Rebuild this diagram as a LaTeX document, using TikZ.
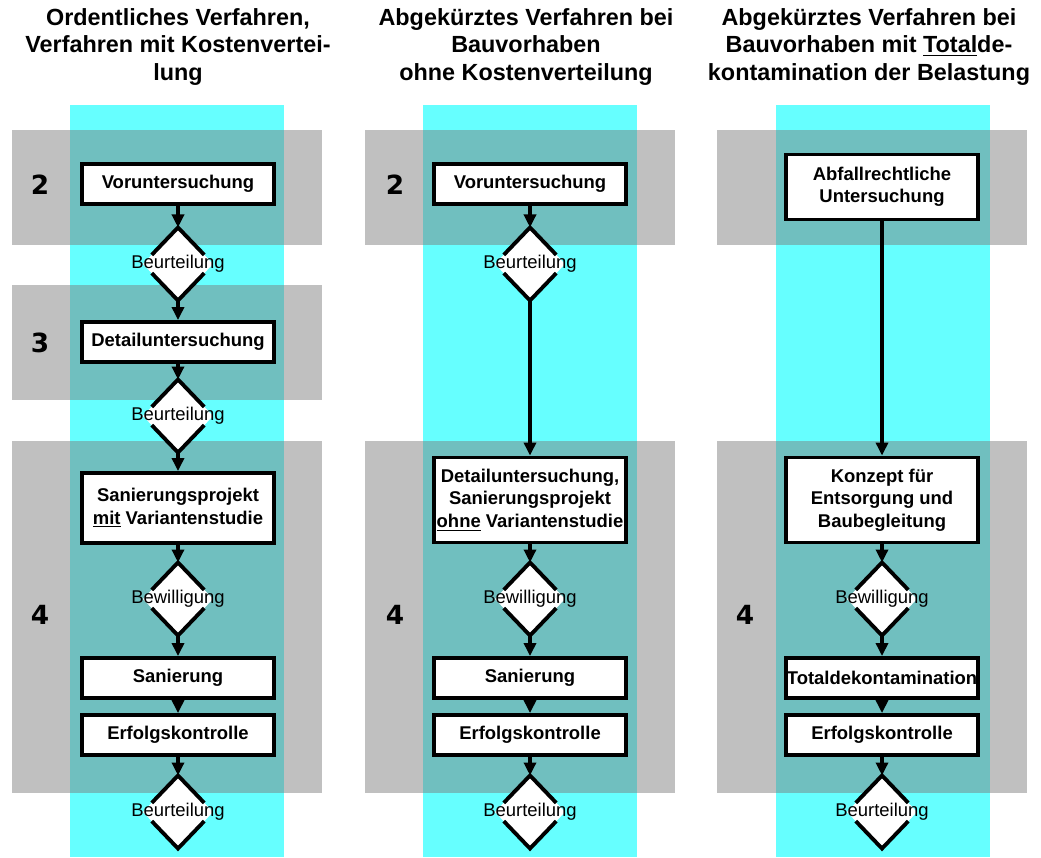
\documentclass[tikz,border=0pt]{standalone}
\usepackage{fontspec}
\setmainfont{Liberation Sans}
\newfontfamily\phasefont{DejaVu Sans}
\usetikzlibrary{arrows.meta,shapes.geometric,calc}
\definecolor{stripcyan}{RGB}{102,255,255}
\definecolor{bandgray}{RGB}{192,192,192}
\definecolor{bandteal}{RGB}{112,191,191}
\tikzset{
  stepbox/.style={draw, line width=2.2pt, fill=white, minimum width=38.4mm,
                  minimum height=8mm, inner sep=0pt, align=center,
                  font=\fontsize{10.5}{12.8}\selectfont\bfseries},
  decision/.style={diamond, fill=white, minimum width=14mm, outer sep=0pt,
                   minimum height=14.6mm, inner sep=0pt,
                   font=\fontsize{10.5}{12.8}\selectfont},
  edge/.style={line width=2.2pt},
  flow/.style={-{Triangle[length=2.6mm,width=2.4mm]}, line width=2.2pt},
  phase/.style={font=\phasefont\fontsize{15}{18}\selectfont\bfseries},
  heading/.style={align=center, font=\fontsize{13.3}{15.6}\selectfont\bfseries},
}
% diamond outline, left open where the text runs across it
\newcommand{\splitdiamond}[1]{%
  \draw[edge] ($(#1.west)!0.25!(#1.north)$) -- (#1.north) -- ($(#1.east)!0.25!(#1.north)$);
  \draw[edge] ($(#1.west)!0.25!(#1.south)$) -- (#1.south) -- ($(#1.east)!0.25!(#1.south)$);}

\begin{document}
\begin{tikzpicture}[x=0.2mm, y=-0.2mm]
\useasboundingbox (0,0) rectangle (1041,857);

% ================= backgrounds =================
\fill[stripcyan] (70,105) rectangle (284,857);
\fill[stripcyan] (423,105) rectangle (637,857);
\fill[stripcyan] (776,105) rectangle (990,857);

\fill[bandgray] (12,130) rectangle (322,245);
\fill[bandgray] (12,285) rectangle (322,400);
\fill[bandgray] (12,441) rectangle (322,793);
\fill[bandgray] (365,130) rectangle (675,245);
\fill[bandgray] (365,441) rectangle (675,793);
\fill[bandgray] (717,130) rectangle (1027,245);
\fill[bandgray] (717,441) rectangle (1027,793);

\fill[bandteal] (70,130) rectangle (284,245);
\fill[bandteal] (70,285) rectangle (284,400);
\fill[bandteal] (70,441) rectangle (284,793);
\fill[bandteal] (423,130) rectangle (637,245);
\fill[bandteal] (423,441) rectangle (637,793);
\fill[bandteal] (776,130) rectangle (990,245);
\fill[bandteal] (776,441) rectangle (990,793);

% ================= (1) ordentliches Verfahren =================
\node[heading] (title1) at (178,47)
  {Ordentliches Verfahren,\\Verfahren mit Kostenvertei-\\lung};
\node[phase] (ph1a) at (40,185) {2};
\node[phase] (ph1b) at (40,343) {3};
\node[phase] (ph1c) at (40,615) {4};

\node[stepbox] (vor1) at (178,184) {Voruntersuchung};
\node[decision] (beu1a) at (178,264) {\makebox[0pt]{Beurteilung}};
\node[stepbox] (det1) at (178,342) {Detailuntersuchung};
\node[decision] (beu1b) at (178,416) {\makebox[0pt]{Beurteilung}};
\node[stepbox, minimum height=14mm] (pro1) at (178,508)
  {Sanierungsprojekt\\\underline{mit} Variantenstudie};
\node[decision] (bew1) at (178,599) {\makebox[0pt]{Bewilligung}};
\node[stepbox] (san1) at (178,678) {Sanierung};
\node[stepbox] (erf1) at (178,735) {Erfolgskontrolle};
\node[decision] (beu1c) at (178,812) {\makebox[0pt]{Beurteilung}};
\splitdiamond{beu1a}
\splitdiamond{beu1b}
\splitdiamond{bew1}
\splitdiamond{beu1c}

\draw[flow] (vor1) -- (beu1a);
\draw[flow] (beu1a) -- (det1);
\draw[flow] (det1) -- (beu1b);
\draw[flow] (beu1b) -- (pro1);
\draw[flow] (pro1) -- (bew1);
\draw[flow] (bew1) -- (san1);
\draw[flow] (san1) -- (erf1);
\draw[flow] (erf1) -- (beu1c);

% ================= (2) ohne Kostenverteilung =================
\node[heading] (title2) at (526,47)
  {Abgekürztes Verfahren bei\\Bauvorhaben\\ohne Kostenverteilung};
\node[phase] (ph2a) at (395,185) {2};
\node[phase] (ph2c) at (395,615) {4};

\node[stepbox] (vor2) at (530,184) {Voruntersuchung};
\node[decision] (beu2a) at (530,264) {\makebox[0pt]{Beurteilung}};
\node[stepbox, minimum height=17mm] (det2) at (530,500)
  {Detailuntersuchung,\\Sanierungsprojekt\\\underline{ohne} Variantenstudie};
\node[decision] (bew2) at (530,599) {\makebox[0pt]{Bewilligung}};
\node[stepbox] (san2) at (530,678) {Sanierung};
\node[stepbox] (erf2) at (530,735) {Erfolgskontrolle};
\node[decision] (beu2c) at (530,812) {\makebox[0pt]{Beurteilung}};
\splitdiamond{beu2a}
\splitdiamond{bew2}
\splitdiamond{beu2c}

\draw[flow] (vor2) -- (beu2a);
\draw[flow] (beu2a) -- (det2);
\draw[flow] (det2) -- (bew2);
\draw[flow] (bew2) -- (san2);
\draw[flow] (san2) -- (erf2);
\draw[flow] (erf2) -- (beu2c);

% ================= (3) Totaldekontamination =================
\node[heading] (title3) at (869,47)
  {Abgekürztes Verfahren bei\\Bauvorhaben mit \underline{Total}de-\\kontamination der Belastung};
\node[phase] (ph3c) at (745,615) {4};

\node[stepbox, minimum height=13mm] (abf3) at (882,187)
  {Abfallrechtliche\\Untersuchung};
\node[stepbox, minimum height=17mm] (kon3) at (882,500)
  {Konzept für\\Entsorgung und\\Baubegleitung};
\node[decision] (bew3) at (882,599) {\makebox[0pt]{Bewilligung}};
\node[stepbox] (tot3) at (882,678) {Totaldekontamination};
\node[stepbox] (erf3) at (882,735) {Erfolgskontrolle};
\node[decision] (beu3c) at (882,812) {\makebox[0pt]{Beurteilung}};
\splitdiamond{bew3}
\splitdiamond{beu3c}

\draw[flow] (abf3) -- (kon3);
\draw[flow] (kon3) -- (bew3);
\draw[flow] (bew3) -- (tot3);
\draw[flow] (tot3) -- (erf3);
\draw[flow] (erf3) -- (beu3c);

\end{tikzpicture}
\end{document}
